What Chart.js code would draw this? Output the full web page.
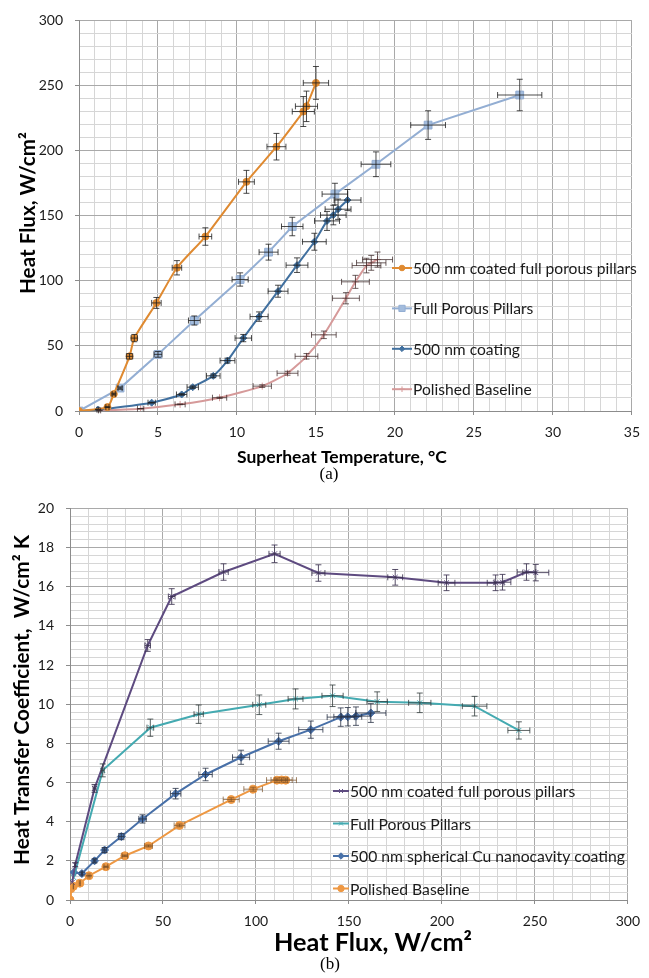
<!DOCTYPE html>
<html><head><meta charset="utf-8">
<script src="https://cdn.jsdelivr.net/npm/chart.js@4.4.0/dist/chart.umd.min.js"></script>
<style>
html,body{margin:0;padding:0;background:#fff;width:649px;height:978px;overflow:hidden}
canvas{position:absolute;left:0}
#ca{top:0}
#cb{top:488px}
</style></head><body>
<canvas id="ca" width="649" height="488"></canvas>
<canvas id="cb" width="649" height="490"></canvas>
<script>
// ---------- Panel (a): Heat flux vs superheat ----------
const aNames = ["500 nm coated full porous pillars", "Full Porous Pillars", "500 nm coating", "Polished Baseline"];
const aXLabels = [0, 5, 10, 15, 20, 25, 30, 35];
const aYLabels = [0, 50, 100, 150, 200, 250, 300];

const a1X = [0, 1.8, 2.2, 3.2, 3.5, 4.9, 6.2, 8.0, 10.6, 12.5, 14.2, 14.4, 15.0];
const a1Y = [0, 3, 13, 42, 56, 83, 110, 134, 176, 203, 230, 234, 252];
const a1XErr = [0, 0.1, 0.1, 0.2, 0.2, 0.3, 0.3, 0.4, 0.5, 0.6, 0.7, 0.7, 0.8];
const a1YErr = [0, 0.2, 0.7, 2.1, 2.8, 4.2, 5.5, 6.7, 8.8, 10.2, 11.5, 11.7, 12.6];

const a2X = [0, 2.6, 5.0, 7.3, 10.2, 12.0, 13.5, 16.2, 18.8, 22.1, 27.9];
const a2Y = [0, 17.6, 43.5, 69.5, 101, 122, 141.7, 166.6, 189.5, 219.6, 242.7];
const a2XErr = [0, 0.13, 0.25, 0.37, 0.51, 0.6, 0.68, 0.81, 0.94, 1.1, 1.4];
const a2YErr = [0, 0.9, 2.2, 3.5, 5.1, 6.1, 7.1, 8.3, 9.5, 11, 12.1];

const a3X = [0, 1.2, 4.6, 6.5, 7.2, 8.5, 9.4, 10.4, 11.4, 12.6, 13.8, 14.9, 15.7, 16.1, 16.4, 17.0];
const a3Y = [0, 1, 6.4, 12.7, 18.3, 27, 38.7, 56, 72.5, 92, 112, 130, 146, 150.5, 155, 162];
const a3XErr = [0, 0.06, 0.23, 0.33, 0.36, 0.43, 0.47, 0.52, 0.57, 0.63, 0.69, 0.75, 0.79, 0.81, 0.82, 0.85];
const a3YErr = [0, 0.05, 0.3, 0.6, 0.9, 1.4, 1.9, 2.8, 3.6, 4.6, 5.6, 6.5, 7.3, 7.5, 7.8, 8.1];

const a4X = [0, 1.3, 3.9, 6.4, 8.9, 11.6, 13.2, 14.4, 15.5, 16.9, 17.5, 18.2, 18.5, 18.9];
const a4Y = [0, 0.5, 1.8, 5.1, 10.2, 19.1, 29, 42, 58.5, 86.6, 99.2, 111.7, 113.8, 116.3];
const a4XErr = [0, 0.07, 0.2, 0.32, 0.45, 0.58, 0.66, 0.72, 0.78, 0.85, 0.88, 0.91, 0.93, 0.95];
const a4YErr = [0, 0.03, 0.1, 0.26, 0.5, 1, 1.5, 2.1, 2.9, 4.3, 5, 5.6, 5.7, 5.8];

// ---------- Panel (b): HTC vs heat flux ----------
const bNames = ["500 nm coated full porous pillars", "Full Porous Pillars", "500 nm spherical Cu nanocavity coating", "Polished Baseline"];
const bXLabels = [0, 50, 100, 150, 200, 250, 300];
const bYLabels = [0, 2, 4, 6, 8, 10, 12, 14, 16, 18, 20];

const b1X = [1.2, 2.8, 13.2, 41.8, 54.7, 82.6, 110, 133.6, 174.9, 202.5, 228.9, 232.6, 245.5, 250.5];
const b1Y = [0.9, 1.8, 5.7, 13.0, 15.5, 16.75, 17.68, 16.7, 16.48, 16.2, 16.2, 16.23, 16.75, 16.72];
const b1XErr = [0, 0.2, 0.8, 1.5, 1.8, 2.5, 3, 3.5, 4, 4.5, 4.5, 4.5, 5, 7];
const b1YErr = [0, 0.1, 0.2, 0.3, 0.4, 0.42, 0.45, 0.42, 0.4, 0.4, 0.4, 0.4, 0.42, 0.42];

const b2X = [2.0, 17.6, 43.2, 69.2, 101.8, 121.3, 141.2, 165.2, 188.1, 217.6, 241.4];
const b2Y = [1.15, 6.62, 8.8, 9.49, 9.97, 10.27, 10.43, 10.13, 10.07, 9.9, 8.66];
const b2XErr = [0, 0.8, 1.8, 2.5, 3.5, 4, 5.7, 5.5, 6, 6.6, 5.9];
const b2YErr = [0, 0.33, 0.44, 0.47, 0.5, 0.51, 0.55, 0.5, 0.5, 0.5, 0.44];

const b3X = [2.1, 6.4, 13.2, 18.6, 27.6, 39.0, 56.8, 72.9, 92, 112.2, 129.5, 145.6, 149.4, 153.8, 161.8];
const b3Y = [1.41, 1.35, 2.0, 2.55, 3.24, 4.14, 5.43, 6.41, 7.29, 8.11, 8.7, 9.34, 9.36, 9.39, 9.55];
const b3XErr = [0, 0.3, 0.7, 0.9, 1.4, 2, 2.8, 3.6, 4.6, 5.6, 6.5, 7.3, 7.5, 7.7, 8.1];
const b3YErr = [0, 0.07, 0.1, 0.13, 0.16, 0.21, 0.27, 0.32, 0.36, 0.41, 0.44, 0.47, 0.47, 0.47, 0.48];

const b4X = [0, 0.5, 1.8, 5.3, 10.2, 19.3, 29.5, 42.2, 58.9, 86.7, 98.5, 111.3, 113.8, 116.0];
const b4Y = [0, 0.58, 0.7, 0.86, 1.24, 1.70, 2.26, 2.76, 3.81, 5.13, 5.66, 6.12, 6.13, 6.12];
const b4XErr = [0, 0, 0.1, 0.3, 0.5, 1, 1.5, 2.1, 2.9, 4.3, 5, 5.6, 5.7, 5.8];
const b4YErr = [0, 0, 0, 0, 0.02, 0.03, 0.04, 0.05, 0.07, 0.09, 0.1, 0.11, 0.11, 0.11];

// ---------- helpers ----------
const FONT = "Lato, 'Open Sans', 'DejaVu Sans', sans-serif";
const pts = (xs, ys) => xs.map((x, i) => ({x: x, y: ys[i]}));

function near(v, list) { return list.some(l => Math.abs(l - v) < 1e-6); }

function buildTicks(min, max, step) {
  return function (scale) {
    const t = [];
    const n = Math.round((max - min) / step);
    for (let i = 0; i <= n; i++) t.push({value: Math.round((min + i * step) * 1000) / 1000});
    scale.ticks = t;
  };
}

function makeScale(min, max, step, labels, fitSize, horizontal, pad) {
  return {
    type: 'linear', min: min, max: max,
    afterBuildTicks: buildTicks(min, max, step),
    afterFit: function (s) { if (horizontal) s.height = fitSize; else s.width = fitSize; },
    ticks: {
      autoSkip: false, maxRotation: 0, minRotation: 0, padding: pad,
      color: '#1a1a1a', font: {family: FONT, size: 14},
      callback: v => near(v, labels) ? String(Math.round(v)) : ''
    },
    grid: {
      color: c => (c.tick && near(c.tick.value, labels)) ? '#a9a9a9' : '#d6d6d6',
      lineWidth: 1,
      tickLength: 4,
      tickColor: c => (c.tick && near(c.tick.value, labels)) ? '#8c8c8c' : 'rgba(0,0,0,0)'
    },
    border: {display: true, color: '#8c8c8c', width: 1}
  };
}

const errorBarPlugin = {
  id: 'errorBars',
  afterDatasetsDraw(chart) {
    const ctx = chart.ctx, xs = chart.scales.x, ys = chart.scales.y;
    ctx.save();
    chart.data.datasets.forEach(ds => {
      if (!ds.errX) return;
      ctx.strokeStyle = ds.errColor;
      ctx.lineWidth = 1;
      const cap = 3;
      ds.data.forEach((p, j) => {
        const px = xs.getPixelForValue(p.x), py = ys.getPixelForValue(p.y);
        const ex = ds.errX[j], ey = ds.errY[j];
        ctx.beginPath();
        if (ex > 0) {
          const x1 = xs.getPixelForValue(p.x - ex), x2 = xs.getPixelForValue(p.x + ex);
          ctx.moveTo(x1, py); ctx.lineTo(x2, py);
          ctx.moveTo(x1, py - cap); ctx.lineTo(x1, py + cap);
          ctx.moveTo(x2, py - cap); ctx.lineTo(x2, py + cap);
        }
        if (ey > 0) {
          const y1 = ys.getPixelForValue(p.y - ey), y2 = ys.getPixelForValue(p.y + ey);
          ctx.moveTo(px, y1); ctx.lineTo(px, y2);
          ctx.moveTo(px - cap, y1); ctx.lineTo(px + cap, y1);
          ctx.moveTo(px - cap, y2); ctx.lineTo(px + cap, y2);
        }
        ctx.stroke();
      });
    });
    ctx.restore();
  }
};

function fitFont(ctx, text, weight, family, target) {
  ctx.font = weight + ' 20px ' + family;
  const w = ctx.measureText(text).width;
  return 20 * target / w;
}

const textPlugin = {
  id: 'texts',
  afterDraw(chart, args, opts) {
    const ctx = chart.ctx;
    ctx.save();
    ctx.fillStyle = '#000';
    // legend
    const L = opts.legend;
    const lsize = fitFont(ctx, L.ref, 'normal', FONT, L.refWidth);
    chart.data.datasets.forEach((ds, i) => {
      const y = L.y0 + i * L.dy;
      ctx.strokeStyle = ds.borderColor;
      ctx.lineWidth = 2;
      ctx.beginPath(); ctx.moveTo(L.x0, y); ctx.lineTo(L.x1, y); ctx.stroke();
      ctx.fillStyle = ds.pointBackgroundColor;
      ctx.strokeStyle = ds.pointBorderColor;
      ctx.lineWidth = 1;
      Chart.helpers.drawPoint(ctx, {pointStyle: ds.pointStyle, radius: ds.pointRadius * 0.8, rotation: 0, borderWidth: 1}, (L.x0 + L.x1) / 2, y);
      ctx.fillStyle = '#1a1a1a';
      ctx.font = 'normal ' + lsize.toFixed(2) + 'px ' + FONT;
      ctx.textAlign = 'left'; ctx.textBaseline = 'middle';
      ctx.fillText(ds.label, L.x1 + 1, y + 1);
    });
    // titles
    opts.titles.forEach(t => {
      const fam = t.family || FONT;
      const size = t.width ? fitFont(ctx, t.text, t.weight, fam, t.width) : t.size;
      ctx.font = t.weight + ' ' + size.toFixed(2) + 'px ' + fam;
      ctx.fillStyle = '#000';
      ctx.textAlign = 'center'; ctx.textBaseline = 'middle';
      ctx.save();
      ctx.translate(t.x, t.y);
      ctx.rotate(t.rot || 0);
      ctx.fillText(t.text, 0, 0);
      ctx.restore();
    });
    ctx.restore();
  }
};

function ds(name, xs, ys, ex, ey, color, style, radius, smooth, errColor, fill) {
  return {
    label: name, data: pts(xs, ys), showLine: true,
    borderColor: color, backgroundColor: color, borderWidth: 2,
    pointStyle: style, pointRadius: radius, pointHoverRadius: radius,
    pointBackgroundColor: fill || color, pointBorderColor: color, pointBorderWidth: 1,
    tension: smooth ? 0.2 : 0, cubicInterpolationMode: 'default',
    errX: ex, errY: ey, errColor: errColor
  };
}

// Panel (a)
new Chart(document.getElementById('ca'), {
  type: 'scatter',
  plugins: [errorBarPlugin, textPlugin],
  data: {
    datasets: [
      ds(aNames[0], a1X, a1Y, a1XErr, a1YErr, '#DF8A31', 'circle', 3.5, true, 'rgba(30,30,30,0.8)'),
      ds(aNames[1], a2X, a2Y, a2XErr, a2YErr, '#93AED3', 'rect', 5.5, false, 'rgba(30,30,30,0.8)', '#A3BCDD'),
      ds(aNames[2], a3X, a3Y, a3XErr, a3YErr, '#41709F', 'rectRot', 3.5, true, 'rgba(30,30,30,0.8)'),
      ds(aNames[3], a4X, a4Y, a4XErr, a4YErr, '#D69A9A', 'cross', 3.5, true, 'rgba(60,40,40,0.75)')
    ]
  },
  options: {
    responsive: false, animation: false, devicePixelRatio: 1,
    layout: {padding: {left: 0, right: 13, top: 17, bottom: 0}},
    scales: {
      x: makeScale(0, 35, 1, aXLabels, 77, true, 9),
      y: makeScale(0, 300, 10, aYLabels, 79, false, 12)
    },
    plugins: {
      legend: {display: false}, tooltip: {enabled: false},
      texts: {
        legend: {x0: 392, x1: 412, y0: 268, dy: 40.4, ref: aNames[0], refWidth: 224},
        titles: [
          {text: 'Heat Flux, W/cm²', weight: 'bold', x: 28, y: 213, rot: -Math.PI / 2, width: 162},
          {text: 'Superheat Temperature, °C', weight: 'bold', x: 342, y: 457, width: 210},
          {text: '(a)', weight: 'normal', family: "'Liberation Serif', 'DejaVu Serif', serif", size: 17, x: 329, y: 475}
        ]
      }
    }
  }
});

// Panel (b)
new Chart(document.getElementById('cb'), {
  type: 'scatter',
  plugins: [errorBarPlugin, textPlugin],
  data: {
    datasets: [
      ds(bNames[0], b1X, b1Y, b1XErr, b1YErr, '#5E4B80', 'crossRot', 3.5, false, 'rgba(60,50,80,0.85)'),
      ds(bNames[1], b2X, b2Y, b2XErr, b2YErr, '#44AAB1', 'crossRot', 3.5, false, 'rgba(50,60,60,0.8)'),
      ds(bNames[2], b3X, b3Y, b3XErr, b3YErr, '#4870A8', 'rectRot', 4, false, 'rgba(40,50,70,0.8)'),
      ds(bNames[3], b4X, b4Y, b4XErr, b4YErr, '#EE9843', 'circle', 4, false, 'rgba(120,80,40,0.7)')
    ]
  },
  options: {
    responsive: false, animation: false, devicePixelRatio: 1,
    layout: {padding: {left: 0, right: 12, top: 9, bottom: 0}},
    scales: {
      x: makeScale(0, 300, 10, bXLabels, 78, true, 9),
      y: makeScale(0, 20, 0.4, bYLabels, 70, false, 12)
    },
    plugins: {
      legend: {display: false}, tooltip: {enabled: false},
      texts: {
        legend: {x0: 333, x1: 349, y0: 303, dy: 32.5, ref: bNames[2], refWidth: 275},
        titles: [
          {text: 'Heat Transfer Coefficient,  W/cm² K', weight: 'bold', x: 22, y: 212, rot: -Math.PI / 2, width: 330},
          {text: 'Heat Flux, W/cm²', weight: 'bold', x: 373, y: 455, width: 198},
          {text: '(b)', weight: 'normal', family: "'Liberation Serif', 'DejaVu Serif', serif", size: 17, x: 330, y: 477}
        ]
      }
    }
  }
});
</script>
</body></html>
